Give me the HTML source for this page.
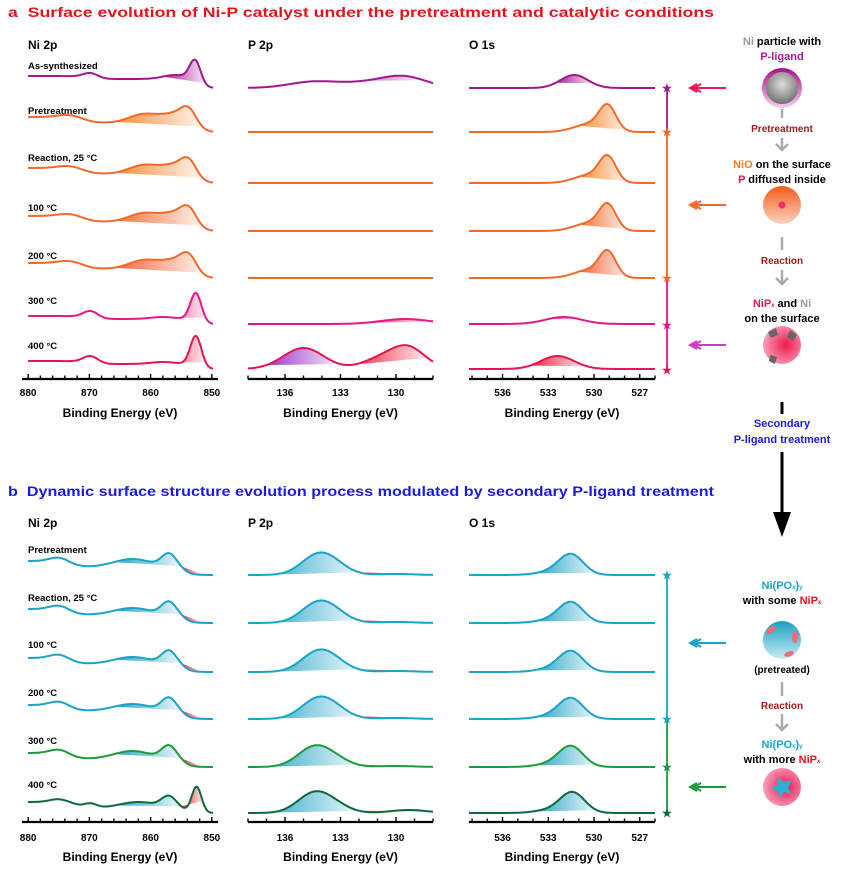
<!DOCTYPE html>
<html><head><meta charset="utf-8">
<style>
html,body{margin:0;padding:0;background:#fff;}
svg{display:block;font-family:"Liberation Sans",Arial,sans-serif;}
.b{font-weight:bold;}
</style></head>
<body>
<svg id="fig" width="849" height="870" viewBox="0 0 849 870" xmlns="http://www.w3.org/2000/svg">
<defs id="defs"></defs>
<text x="8" y="17" font-size="14" class="b" fill="#e8121c" textLength="706" lengthAdjust="spacingAndGlyphs">a&#160;&#160;Surface evolution of Ni-P catalyst under the pretreatment and catalytic conditions</text>
<text x="8" y="496" font-size="14" class="b" fill="#1a1ae0" textLength="706" lengthAdjust="spacingAndGlyphs">b&#160;&#160;Dynamic surface structure evolution process modulated by secondary P-ligand treatment</text>
<g id="plots"></g>
<g id="scheme" font-weight="bold" font-size="11" text-anchor="middle">
 <text x="782" y="45"><tspan fill="#999">Ni</tspan> particle with</text>
 <text x="782" y="60" fill="#b0168f">P-ligand</text>
 <text x="782" y="132" fill="#9b1b1b" font-size="10">Pretreatment</text>
 <text x="782" y="168"><tspan fill="#f07a2a">NiO</tspan> on the surface</text>
 <text x="782" y="183"><tspan fill="#e8155a">P</tspan> diffused inside</text>
 <text x="782" y="264" fill="#9b1b1b" font-size="10">Reaction</text>
 <text x="782" y="307"><tspan fill="#e8155a">NiP<tspan font-size="6">x</tspan></tspan> and <tspan fill="#999">Ni</tspan></text>
 <text x="782" y="322">on the surface</text>
 <text x="782" y="427" fill="#1a1ae0">Secondary</text>
 <text x="782" y="443" fill="#1a1ae0">P-ligand  treatment</text>
 <text x="782" y="589" fill="#1ba3c6">Ni(PO<tspan font-size="6">x</tspan>)<tspan font-size="6">y</tspan></text>
 <text x="782" y="604">with some <tspan fill="#e8121c">NiP<tspan font-size="6">x</tspan></tspan></text>
 <text x="782" y="673" font-size="10">(pretreated)</text>
 <text x="782" y="709" fill="#9b1b1b" font-size="10">Reaction</text>
 <text x="782" y="748" fill="#1ba3c6">Ni(PO<tspan font-size="6">x</tspan>)<tspan font-size="6">y</tspan></text>
 <text x="782" y="763">with more <tspan fill="#e8121c">NiP<tspan font-size="6">x</tspan></tspan></text>
</g>
<g id="shapes">
 <defs>
  <radialGradient id="gGray" cx="0.5" cy="0.4" r="0.6"><stop offset="0" stop-color="#ddd"/><stop offset="1" stop-color="#666"/></radialGradient>
  <linearGradient id="gRing" x1="0" y1="0" x2="0" y2="1"><stop offset="0" stop-color="#b0168f"/><stop offset="1" stop-color="#f3c6ea"/></linearGradient>
  <linearGradient id="gOr" x1="0" y1="0" x2="0" y2="1"><stop offset="0" stop-color="#f55a1a"/><stop offset="1" stop-color="#fbd3c3"/></linearGradient>
  <radialGradient id="gPk" cx="0.6" cy="0.5" r="0.6"><stop offset="0" stop-color="#f0184f"/><stop offset="1" stop-color="#f7a0b8"/></radialGradient>
  <linearGradient id="gCy" x1="0" y1="0" x2="0" y2="1"><stop offset="0" stop-color="#1a9ec0"/><stop offset="1" stop-color="#c8ecf4"/></linearGradient>
 </defs>
 <circle cx="782" cy="88" r="18" fill="url(#gGray)" stroke="url(#gRing)" stroke-width="4"/>
 <circle cx="782" cy="205" r="19" fill="url(#gOr)"/>
 <circle cx="782" cy="205" r="3.5" fill="#e8155a" opacity="0.8"/>
 <circle cx="782" cy="345" r="19" fill="url(#gPk)"/>
 <path d="M768 332 l8 -4 l2 7 l-7 3z M790 330 l7 5 l-4 6 l-6 -4z M770 355 l7 2 l-2 7 l-6 -3z" fill="#666"/>
 <circle cx="782" cy="640" r="19" fill="url(#gCy)"/>
 <ellipse cx="771" cy="630" rx="5" ry="3" fill="#f06a80" transform="rotate(-40 771 630)"/>
 <ellipse cx="795" cy="637" rx="3" ry="6" fill="#f06a80"/>
 <ellipse cx="789" cy="654" rx="5" ry="2.5" fill="#f06a80" transform="rotate(-20 789 654)"/>
 <circle cx="782" cy="787" r="19" fill="url(#gPk)"/>
 <path d="M778 778 l6 4 l8 -2 l-4 8 l4 6 l-8 -2 l-4 6 l-2 -7 l-7 -2 l6 -4z" fill="#2ab0d0"/>
 <g stroke="#aaa" stroke-width="2.5" fill="none">
  <line x1="782" y1="109" x2="782" y2="118"/><line x1="782" y1="138" x2="782" y2="150"/><polyline points="776,144 782,150 788,144"/>
  <line x1="782" y1="237" x2="782" y2="250"/><line x1="782" y1="270" x2="782" y2="284"/><polyline points="776,278 782,284 788,278"/>
  <line x1="782" y1="682" x2="782" y2="696"/><line x1="782" y1="714" x2="782" y2="730"/><polyline points="776,724 782,730 788,724"/>
 </g>
 <line x1="782" y1="402" x2="782" y2="414" stroke="#000" stroke-width="3"/>
 <line x1="782" y1="452" x2="782" y2="515" stroke="#000" stroke-width="3"/>
 <polygon points="773,512 791,512 782,537" fill="#000"/>
</g>
<g id="links"></g>
</svg>
<script>
// ---------- data ----------
const rowLabelsA = ["As-synthesized","Pretreatment","Reaction, 25 \u00B0C","100 \u00B0C","200 \u00B0C","300 \u00B0C","400 \u00B0C"];
const rowLabelsB = ["Pretreatment","Reaction, 25 \u00B0C","100 \u00B0C","200 \u00B0C","300 \u00B0C","400 \u00B0C"];
const rowBaseA = [88,132,183,231,278,324,369];
const rowBaseB = [575,623,672,719,767,813];
const colorsA = ["#a3168f","#f2692a","#f2692a","#f2692a","#f2692a","#e6168c","#e5154f"];
const colorsB = ["#1ba3c6","#1ba3c6","#1ba3c6","#1ba3c6","#1d9a3c","#0d6a3a"];
const niTicks = [880,870,860,850];
const pTicks = [136,133,130];
const oTicks = [536,533,530,527];
// steps: [position eV, height, width]; peaks: [center eV, height, sigma]
const niA_steps = [[[852.5,9,0.7],[870.5,3,1]],[[853,9,0.8],[871.5,6,1.2]],[[853,9,0.8],[871.5,6,1.2]],[[853,9,0.8],[871.5,6,1.2]],[[853,9,0.8],[871.5,6,1.2]],[[852.3,5,0.7],[870.5,3,1]],[[852.3,5,0.7],[870.5,3,1]]];
const niA_peaks = [[[869.8,5,1.2],[852.7,22,0.9],[856,4,2]],
 [[873,3,2],[861,9,2.5],[856,8,2],[853.7,14,1.3]],
 [[873,3,2],[861,9,2.5],[856,8,2],[853.7,14,1.3]],
 [[873,3,2],[861,9,2.5],[856,8,2],[853.7,14,1.3]],
 [[873,3,2],[861,9,2.5],[856,8,2],[853.7,14,1.3]],
 [[869.8,7,1.2],[852.6,28,0.9],[858,2,2]],
 [[869.8,7,1.2],[852.6,30,0.9],[858,2,2]]];
const niA_fills = [[[858,851]],[[866,851.5]],[[866,851.5]],[[866,851.5]],[[866,851.5]],[[860,851]],[[860,851]]];
const pA_peaks = [[[134.5,6,1.3],[131.5,5,1.5],[129.5,10,1.2]],[],[],[],[],[[129.5,5,1.3]],[[135,21,1.1],[130.8,10,1],[129.3,20,0.9]]];
const pA_fills = [[[134.5,128.5]],[],[],[],[],[[132,128]],[[137,133],[132.5,128.3]]];
const oA_peaks = [[[531.3,13,0.9]],[[529.1,24,0.55],[530.3,8,1.0]],[[529.1,24,0.55],[530.3,8,1.0]],[[529.1,24,0.55],[530.3,8,1.0]],[[529.1,24,0.55],[530.3,8,1.0]],[[532,7,1.2]],[[532.4,13,1.1]]];
const oA_fills = [[[532.5,530]],[[531,527.8]],[[531,527.8]],[[531,527.8]],[[531,527.8]],[[533,531]],[[534.2,530.5]]];
const fillColA = ["#a3168f","#f5862a","#f5862a","#f2692a","#f25a2a","#ec1560","#ec1530"];
const pFill2A = "#9a2bc8";
const niB_steps = [[[854.5,8,0.7],[873,6,1]],[[854.5,8,0.7],[873,6,1]],[[854.5,8,0.7],[873,6,1]],[[854.5,8,0.7],[873,6,1]],[[854.5,8,0.7],[873,6,1]],[[854.5,5,0.7],[872,6,1]]];
const niB_peaks = [[[875,4,1.5],[863,8,3],[857,13,1.2]],[[875,4,1.5],[863,7,3],[857,13,1.2]],[[875,4,1.5],[863,7,3],[857,13,1.2]],[[875,4,1.5],[863,7,3],[857,13,1.2]],[[875,4,1.5],[863,8,3],[857,13,1.2]],[[875,3,1.5],[869.8,4,1],[862,6,3],[857,11,1.2],[852.5,26,0.8]]];
const pB_peaks = [[[134.2,20,0.9],[133.2,5,0.8],[130,1,1]],[[134.2,20,0.9],[133.2,5,0.8],[130,1,1]],[[134.2,20,0.9],[133.2,5,0.8],[130,1,1]],[[134.2,20,0.9],[133.2,5,0.8],[130,1,1]],[[134.4,20,0.9],[133.2,5,0.8],[130,1,1]],[[134.4,20,0.9],[133.2,5,0.8],[129.3,3,1]]];
const oB_peaks = [[[531.5,20,0.8],[532.8,3,1]],[[531.5,20,0.8],[532.8,3,1]],[[531.5,20,0.8],[532.8,3,1]],[[531.5,20,0.8],[532.8,3,1]],[[531.5,20,0.8],[532.8,3,1]],[[531.4,20,0.8],[532.8,3,1]]];
// ---------- drawing ----------
const NS="http://www.w3.org/2000/svg";
const plots=document.getElementById('plots'), defs=document.getElementById('defs');
function mk(tag,attrs,parent){const e=document.createElementNS(NS,tag);for(const k in attrs)e.setAttribute(k,attrs[k]);(parent||plots).appendChild(e);return e;}
const axNi={x0:22,x1:218,emax:881,emin:849,s0:880,s1:849.8,minor:2};
const axP={x0:248,x1:433,emax:138,emin:128,s0:138,s1:128,minor:1};
const axO={x0:469,x1:655,emax:538.2,emin:526,s0:538.2,s1:526,minor:1};
function sx(ax,E){return ax.x0+(ax.emax-E)/(ax.emax-ax.emin)*(ax.x1-ax.x0);}
function inten(E,steps,peaks){let v=0;for(const s of steps)v+=s[1]/(1+Math.exp(-(E-s[0])/s[2]));for(const p of peaks)v+=p[1]*Math.exp(-0.5*Math.pow((E-p[0])/p[2],2));return v;}
function sy(base,I){return base-I;}
let gid=0;
function grad(col){gid++;const g=mk('linearGradient',{id:'fg'+gid,x1:0,y1:0,x2:1,y2:0},defs);mk('stop',{offset:0,'stop-color':col,'stop-opacity':0.95},g);mk('stop',{offset:1,'stop-color':col,'stop-opacity':0.08},g);return 'url(#fg'+gid+')';}
function spectrum(ax,base,steps,peaks,fills,color,fillCols,name){
  const g=mk('g',{});
  
  
  const n=200; const pts=[];
  for(let i=0;i<=n;i++){const E=ax.s0+(ax.s1-ax.s0)*i/n;pts.push([sx(ax,E),sy(base,inten(E,steps,peaks))]);}
  fills.forEach((f,k)=>{
    const fp=[];const m=60;
    for(let i=0;i<=m;i++){const E=f[0]+(f[1]-f[0])*i/m;fp.push(sx(ax,E).toFixed(1)+','+sy(base,inten(E,steps,peaks)).toFixed(1));}
    const p=mk('polygon',{points:fp.join(' '),fill:grad(fillCols[k])},g);
    
    
  });
  const l=mk('polyline',{points:pts.map(p=>p[0].toFixed(1)+','+p[1].toFixed(1)).join(' '),fill:'none',stroke:color,'stroke-width':2,'stroke-linejoin':'round'},g);
  
  
}
function axis(ax,y,ticks,name,labelY,titleY){
  const g=mk('g',{});
  
  
  mk('line',{x1:ax.x0,x2:ax.x1,y1:y,y2:y,stroke:'#000','stroke-width':2.2},g);
  const lo=Math.ceil(ax.emin/ax.minor)*ax.minor;
  for(let E=lo;E<=ax.emax;E+=ax.minor){const x=sx(ax,E);const major=ticks.indexOf(Math.round(E))>=0&&Math.abs(E-Math.round(E))<1e-6;
    mk('line',{x1:x,x2:x,y1:y,y2:y-(major?5:3.5),stroke:'#000','stroke-width':1.4},g);}
  ticks.forEach(t=>{const tx=mk('text',{x:sx(ax,t),y:labelY,'font-size':10,'font-weight':'bold','text-anchor':'middle'},g);tx.textContent=t;
    
    });
  const tt=mk('text',{x:(ax.x0+ax.x1)/2,y:titleY,'font-size':12,'font-weight':'bold','text-anchor':'middle'},g);tt.textContent='Binding Energy (eV)';
  
  
}
function head(x,y,t,name){const e=mk('text',{x:x,y:y,'font-size':12,'font-weight':'bold'});e.textContent=t;
  
  }
function rowLabel(y,t,name){const e=mk('text',{x:28,y:y,'font-size':9.5,'font-weight':'bold'});e.textContent=t;
  
  }
// panel a
head(28,49,'Ni 2p','ni2p-heading-a');head(248,49,'P 2p','p2p-heading-a');head(469,49,'O 1s','o1s-heading-a');
const labYA=[69,114,161,211,259,304,349];
rowLabelsA.forEach((t,i)=>{
  rowLabel(labYA[i],t,'row-label-a-'+i);
  spectrum(axNi,rowBaseA[i],niA_steps[i],niA_peaks[i],niA_fills[i],colorsA[i],[fillColA[i]],'ni2p-a-spectrum-'+i);
  spectrum(axP,rowBaseA[i],[],pA_peaks[i],pA_fills[i],colorsA[i],i==6?[pFill2A,'#ee1530']:[fillColA[i]],'p2p-a-spectrum-'+i);
  spectrum(axO,rowBaseA[i],[],oA_peaks[i],oA_fills[i],colorsA[i],[fillColA[i]],'o1s-a-spectrum-'+i);
});
axis(axNi,379,niTicks,'ni2p-a-x-axis',396,417);
axis(axP,379,pTicks,'p2p-a-x-axis',396,417);
axis(axO,379,oTicks,'o1s-a-x-axis',396,417);
// panel b
head(28,527,'Ni 2p','ni2p-heading-b');head(248,527,'P 2p','p2p-heading-b');head(469,527,'O 1s','o1s-heading-b');
const labYB=[553,601,648,696,744,788];
rowLabelsB.forEach((t,i)=>{
  rowLabel(labYB[i],t,'row-label-b-'+i);
  spectrum(axNi,rowBaseB[i],niB_steps[i],niB_peaks[i],[[866,855],[855,851.5]],colorsB[i],['#1aa0c4','#ee1a20'],'ni2p-b-spectrum-'+i);
  spectrum(axP,rowBaseB[i],[],pB_peaks[i],[[137.5,132],[132,128]],colorsB[i],['#1aa0c4','#ee1a20'],'p2p-b-spectrum-'+i);
  spectrum(axO,rowBaseB[i],[],oB_peaks[i],[[534,529.8]],colorsB[i],['#1aa0c4'],'o1s-b-spectrum-'+i);
});
axis(axNi,822,niTicks,'ni2p-b-x-axis',841,861);
axis(axP,822,pTicks,'p2p-b-x-axis',841,861);
axis(axO,822,oTicks,'o1s-b-x-axis',841,861);
// state links (vertical lines, stars, arrows)
const links=document.getElementById('links');
function seg(y1,y2,c,name){const l=mk('line',{x1:667,x2:667,y1:y1,y2:y2,stroke:c,'stroke-width':1.8},links);
  
  }
function star(y,c,name){const s=mk('text',{x:667,y:y+4.5,'font-size':13,'text-anchor':'middle',fill:c},links);s.textContent='\u2605';
  
  }
function arrow(y,c,name){const g=mk('g',{stroke:c,'stroke-width':2,fill:'none'},links);
  
  
  mk('line',{x1:726,x2:690,y1:y,y2:y},g);mk('polyline',{points:`${697},${y-4} ${690},${y} ${697},${y+4}`},g);mk('polyline',{points:`${701},${y-4} ${694},${y} ${701},${y+4}`},g);}
seg(88,132,'#a3168f','link-a-1');seg(132,278,'#f2692a','link-a-2');seg(278,370,'#e6168c','link-a-3');
star(88,'#a3168f','star-a-1');star(132,'#f2692a','star-a-2');star(278,'#f2692a','star-a-3');star(325,'#e6168c','star-a-4');star(370,'#e5154f','star-a-5');
arrow(88,'#ee1558','arrow-a-1');arrow(205,'#f2692a','arrow-a-2');arrow(345,'#d23cb8','arrow-a-3');
seg(575,719,'#1ba3c6','link-b-1');seg(719,813,'#1d9a3c','link-b-2');
star(575,'#1ba3c6','star-b-1');star(719,'#1ba3c6','star-b-2');star(767,'#1d9a3c','star-b-3');star(813,'#0d6a3a','star-b-4');
arrow(643,'#1ba3c6','arrow-b-1');arrow(787,'#1d9a3c','arrow-b-2');
</script>
</body></html>
